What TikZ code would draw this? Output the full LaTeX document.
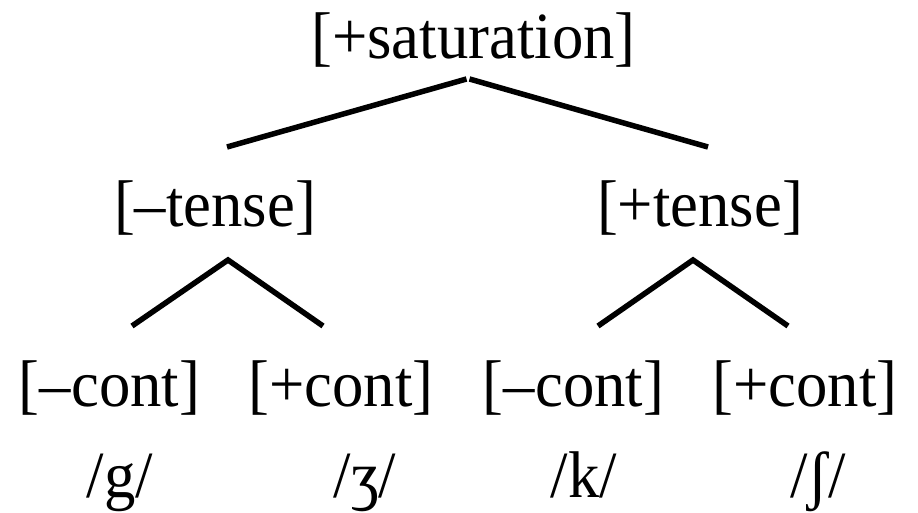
\documentclass[tikz,border=0pt]{standalone}
\usepackage{fontspec}
\setmainfont{Liberation Serif}[FakeStretch=0.95]
\begin{document}
\begin{tikzpicture}[x=1pt,y=-1pt,
  lbl/.style={anchor=base,inner sep=0pt,font=\fontsize{66}{70}\selectfont},
  branch/.style={line width=5.5pt,line cap=butt}]
\useasboundingbox (0,0) rectangle (918,513);
% text
\node[lbl] (sat) at (473.5,59) {[+saturation]};
\node[lbl] (mtense) at (215,226) {[–tense]};
\node[lbl] (ptense) at (700,226) {[+tense]};
\node[lbl] (mc1) at (109.5,406) {[–cont]};
\node[lbl] (pc1) at (341,406) {[+cont]};
\node[lbl] (mc2) at (573.5,406) {[–cont]};
\node[lbl] (pc2) at (805,406) {[+cont]};
\node[lbl] (g) at (120,497) {/g/};
\node[lbl] (zh) at (365,497) {/ʒ/};
\node[lbl] (k) at (584,497) {/k/};
\node[lbl] (sh) at (818,497) {/ʃ/};
% branch points
\coordinate (a0a) at (466.5,79);
\coordinate (a0b) at (469.5,79);
\coordinate (a0l) at (227,147);
\coordinate (a0r) at (708,147);
\coordinate (a1) at (228,260);
\coordinate (a1l) at (132,326);
\coordinate (a1r) at (323,326);
\coordinate (a2) at (693,260);
\coordinate (a2l) at (598,326);
\coordinate (a2r) at (788,326);
\draw[branch] (a0l) -- (a0a);
\draw[branch] (a0b) -- (a0r);
\draw[branch] (a1l) -- (a1) -- (a1r);
\draw[branch] (a2l) -- (a2) -- (a2r);
\end{tikzpicture}
\end{document}
